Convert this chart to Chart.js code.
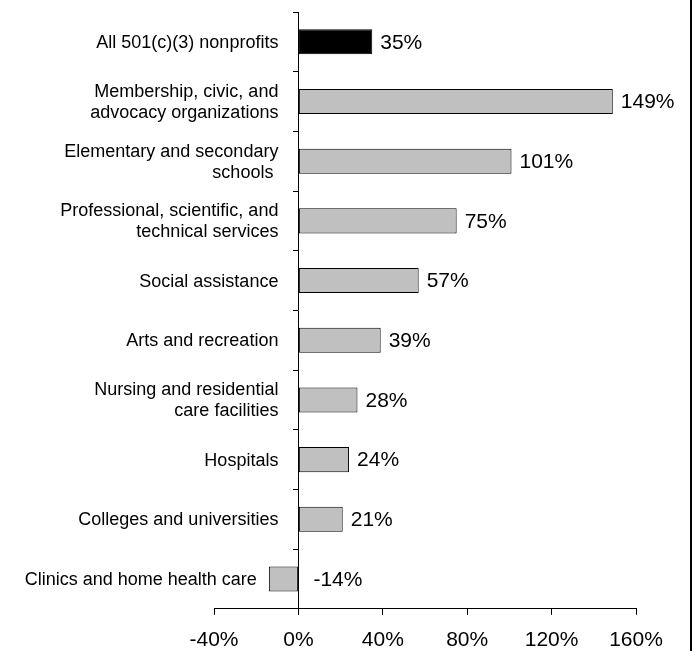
<!DOCTYPE html>
<html>
<head>
<meta charset="utf-8">
<script src="https://cdn.jsdelivr.net/npm/chart.js@4/dist/chart.umd.min.js"></script>
<style>
  body { margin: 0; background: #fff; }
  #wrap { width: 690px; height: 651px; border-right: 2px solid #000; position: relative; }
</style>
</head>
<body>
<div id="wrap"><canvas id="growthChart" width="690" height="651"></canvas></div>
<script>
/* categories, top to bottom */
var categories = [
  ['All 501(c)(3) nonprofits'],
  ['Membership, civic, and', 'advocacy organizations'],
  ['Elementary and secondary', 'schools '],
  ['Professional, scientific, and', 'technical services'],
  ['Social assistance'],
  ['Arts and recreation'],
  ['Nursing and residential', 'care facilities'],
  ['Hospitals'],
  ['Colleges and universities'],
  ['Clinics and home health care']
];
/* percent change */
var growth = [35, 149, 101, 75, 57, 39, 28, 24, 21, -14];
var xTicks = [-40, 0, 40, 80, 120, 160];

var barColors = growth.map(function(v, i) { return i === 0 ? '#000000' : '#c0c0c0'; });
var FONT = '"Liberation Sans", Arial, sans-serif';

/* category names left of the axis (or left of a negative bar) */
var categoryLabels = {
  id: 'categoryLabels',
  afterDraw: function(chart) {
    var ctx = chart.ctx;
    var xs = chart.scales.x, ys = chart.scales.y;
    var zero = xs.getPixelForValue(0);
    var lh = 21;
    ctx.save();
    ctx.font = '18px ' + FONT;
    ctx.fillStyle = '#000';
    ctx.textAlign = 'right';
    ctx.textBaseline = 'middle';
    categories.forEach(function(lines, i) {
      var start = xs.getPixelForValue(Math.min(0, growth[i]));
      var right = Math.min(zero - 20, start - 12);
      var cy = ys.getPixelForValue(i);
      var y0 = cy - (lines.length - 1) * lh / 2;
      lines.forEach(function(t, k) {
        ctx.fillText(t, right, y0 + k * lh + 1);
      });
    });
    ctx.restore();
  }
};

/* value labels at the end of each bar */
var valueLabels = {
  id: 'valueLabels',
  afterDatasetsDraw: function(chart) {
    var ctx = chart.ctx;
    var zero = chart.scales.x.getPixelForValue(0);
    var meta = chart.getDatasetMeta(0);
    ctx.save();
    ctx.font = '21px ' + FONT;
    ctx.fillStyle = '#000';
    ctx.textAlign = 'left';
    ctx.textBaseline = 'middle';
    meta.data.forEach(function(bar, i) {
      var v = growth[i];
      var x = v >= 0 ? bar.x + 8 : zero + 15;
      ctx.fillText(v + '%', x, bar.y + 1);
    });
    ctx.restore();
  }
};

var ctx = document.getElementById('growthChart').getContext('2d');
var chart = new Chart(ctx, {
  type: 'bar',
  data: {
    labels: categories,
    datasets: [{
      data: growth,
      backgroundColor: barColors,
      borderColor: '#000',
      borderWidth: 1,
      borderSkipped: false,
      barPercentage: 0.42,
      categoryPercentage: 1
    }]
  },
  options: {
    indexAxis: 'y',
    responsive: false,
    animation: false,
    layout: { padding: { left: 214, right: 54, top: 12, bottom: -15 } },
    plugins: { legend: { display: false }, tooltip: { enabled: false } },
    scales: {
      x: {
        position: 'bottom',
        min: xTicks[0],
        max: xTicks[xTicks.length - 1],
        afterBuildTicks: function(scale) {
          scale.ticks = xTicks.map(function(v) { return { value: v }; });
        },
        ticks: {
          color: '#000',
          padding: 13,
          font: { family: FONT, size: 21 },
          callback: function(v) { return v + '%'; }
        },
        grid: { drawOnChartArea: false, drawTicks: true, tickLength: 6, color: '#000' },
        border: { display: true, color: '#000', width: 1 }
      },
      y: {
        position: { x: 0 },
        offset: true,
        ticks: { display: false },
        grid: { offset: true, drawOnChartArea: false, drawTicks: true, tickLength: 5, color: '#000' },
        border: { display: true, color: '#000', width: 1 }
      }
    }
  },
  plugins: [valueLabels, categoryLabels]
});
</script>
</body>
</html>
